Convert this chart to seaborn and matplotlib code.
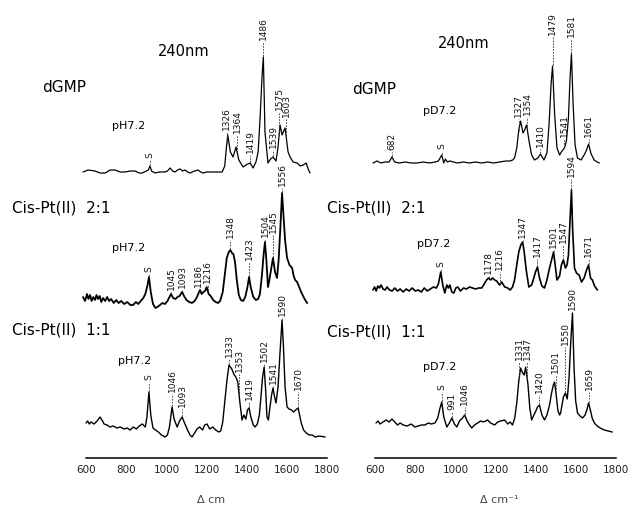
import numpy as np
import matplotlib
matplotlib.use("Agg")
import matplotlib.pyplot as plt
import seaborn as sns

# --- spectra: wavenumber (cm-1) and intensity above each trace baseline ---
# left column (H2O, pH 7.2)
dgmp_h_wn = [585, 610, 645, 670, 695, 720, 744, 770, 794, 820,
             844, 865, 879, 900, 910, 918, 926, 943, 965, 993,
             1005, 1018, 1030, 1043, 1055, 1068, 1080, 1093, 1105, 1117,
             1140, 1157, 1170, 1182, 1200, 1227, 1250, 1277, 1290, 1297,
             1305, 1318, 1331, 1346, 1360, 1381, 1395, 1416, 1431, 1445,
             1456, 1466, 1476, 1482, 1490, 1505, 1518, 1530, 1545, 1555,
             1565, 1575, 1590, 1605, 1615, 1630, 1650, 1665, 1680, 1695,
             1705, 1714]
dgmp_h_int = [0, 2, 1, -1, -1, 2, 2, 0, 0, 1,
              1, -1, -1, 1, 2, 6, 1, -1, 0, 0,
              1, 4, 1, 0, 2, 3, 1, 2, 0, -1,
              1, 2, 0, -1, 0, 0, 0, 0, 6, 22,
              37, 20, 15, 25, 12, 5, 7, 9, 4, 10,
              20, 55, 98, 115, 40, 9, 13, 15, 11, 25,
              47, 37, 44, 20, 15, 10, 9, 6, 7, 9,
              3, -1]

pt21_h_wn = [585, 595, 605, 612, 620, 628, 636, 645, 652, 660,
             668, 676, 685, 695, 705, 715, 725, 738, 750, 762,
             775, 790, 805, 820, 834, 848, 860, 872, 885, 895,
             905, 913, 922, 933, 945, 955, 968, 980, 993, 1005,
             1015, 1023, 1033, 1045, 1055, 1065, 1078, 1090, 1100, 1113,
             1127, 1140, 1152, 1160, 1167, 1175, 1184, 1192, 1200, 1210,
             1220, 1232, 1245, 1257, 1267, 1280, 1290, 1300, 1310, 1318,
             1326, 1333, 1341, 1350, 1360, 1370, 1381, 1392, 1402, 1411,
             1420, 1432, 1445, 1456, 1465, 1475, 1483, 1490, 1497, 1505,
             1512, 1520, 1530, 1540, 1550, 1558, 1566, 1575, 1582, 1590,
             1600, 1612, 1625, 1633, 1640, 1650, 1660, 1670, 1682, 1690,
             1700]
pt21_h_int = [3, -1, 6, 1, 5, -1, 3, 0, 5, 1,
              4, -2, 2, -1, 3, -1, 1, -3, 0, -3,
              -1, -4, -2, -5, -5, -2, -4, -1, 2, 6,
              14, 23, 8, -4, -8, -7, -5, -3, -4, -1,
              3, 6, 2, 1, 3, 4, 8, 3, 0, -2,
              -3, -1, 3, 7, 10, 6, 8, 9, 13, 6,
              4, 0, -2, -3, -1, 8, 25, 42, 48, 50,
              47, 46, 38, 20, 5, 0, -1, 3, 12, 23,
              12, 3, 0, 1, 6, 25, 45, 58, 40, 13,
              20, 30, 42, 28, 22, 40, 70, 107, 85, 60,
              42, 35, 32, 24, 20, 18, 13, 8, 3, 0,
              -3]

pt11_h_wn = [600, 608, 616, 625, 640, 655, 670, 682, 690, 704,
             720, 735, 754, 770, 790, 805, 819, 835, 850, 865,
             880, 895, 903, 913, 922, 933, 945, 960, 975, 993,
             1005, 1015, 1028, 1038, 1053, 1065, 1078, 1090, 1105, 1117,
             1127, 1140, 1152, 1165, 1180, 1190, 1202, 1215, 1230, 1245,
             1260, 1270, 1280, 1290, 1300, 1311, 1325, 1335, 1345, 1355,
             1365, 1376, 1385, 1395, 1403, 1411, 1420, 1432, 1441, 1452,
             1462, 1470, 1478, 1486, 1494, 1500, 1507, 1515, 1523, 1530,
             1538, 1545, 1555, 1565, 1575, 1582, 1590, 1600, 1610, 1622,
             1632, 1642, 1655, 1662, 1672, 1682, 1695, 1710, 1725, 1740,
             1760, 1789]
pt11_h_int = [4, 6, 3, 5, 3, 6, 10, 6, 3, 2,
              0, 1, -1, 0, -2, -1, -3, 0, -2, 1,
              3, 0, 10, 35, 12, -1, -3, -5, -8, -10,
              -8, 0, 20, 8, 0, 6, 10, 4, -3, -8,
              -10, -6, -2, 0, -3, 2, 3, -2, 0, -3,
              -5, -4, 5, 25, 45, 62, 58, 53, 50, 45,
              25, 7, 12, 8, 17, 19, 10, 2, 0, 3,
              12, 30, 50, 60, 35, 10, 7, 20, 32, 39,
              30, 24, 40, 75, 107, 80, 40, 20, 18, 17,
              15, 17, 19, 12, 3, -3, -6, -8, -8, -10,
              -9, -10]

# right column (D2O, pD 7.2)
dgmp_d_wn = [590, 610, 630, 650, 670, 684, 698, 720, 750, 780,
             810, 840, 870, 900, 915, 932, 942, 950, 960, 972,
             990, 1010, 1040, 1070, 1100, 1130, 1160, 1190, 1220, 1250,
             1270, 1285, 1294, 1305, 1315, 1324, 1336, 1344, 1354, 1366,
             1379, 1393, 1410, 1423, 1440, 1455, 1466, 1476, 1483, 1493,
             1505, 1518, 1530, 1542, 1552, 1562, 1570, 1577, 1585, 1595,
             1607, 1625, 1640, 1650, 1662, 1675, 1690, 1705, 1716]
dgmp_d_int = [0, 2, 0, 1, 1, 6, 1, 0, 1, 0,
              0, 1, 0, 1, 2, 8, 0, 4, 1, 2,
              1, 0, 1, 0, 1, 0, 1, 0, 1, 2,
              2, 3, 5, 15, 33, 42, 30, 33, 38, 22,
              8, 3, 5, 9, 3, 10, 40, 80, 97, 50,
              15, 8, 12, 15, 22, 45, 85, 109, 60, 18,
              5, 3, 8, 12, 19, 9, 3, 1, 0]

pt21_d_wn = [590, 598, 606, 614, 622, 630, 640, 650, 660, 672,
             685, 698, 712, 725, 740, 755, 770, 785, 800, 815,
             830, 845, 860, 875, 890, 905, 915, 927, 937, 947,
             957, 965, 972, 982, 992, 1002, 1012, 1025, 1040, 1055,
             1070, 1085, 1100, 1115, 1131, 1146, 1155, 1165, 1175, 1185,
             1195, 1205, 1212, 1220, 1230, 1245, 1260, 1272, 1284, 1294,
             1305, 1315, 1325, 1334, 1342, 1352, 1365, 1379, 1390, 1398,
             1408, 1418, 1430, 1443, 1455, 1468, 1478, 1488, 1496, 1505,
             1518, 1527, 1537, 1547, 1555, 1562, 1570, 1577, 1583, 1592,
             1602, 1615, 1627, 1640, 1652, 1662, 1672, 1681, 1692, 1706]
pt21_d_int = [0, 3, -1, 4, 2, 5, 1, 0, 3, 0,
              -1, 2, -1, 1, -2, 1, -1, 2, -1, 0,
              -2, 2, -1, 1, 3, 2, 6, 18, 5, -3,
              5, 2, 5, -2, -3, 2, 3, -1, 2, 1,
              3, 2, 1, 2, 2, 7, 10, 12, 10, 12,
              10, 9, 7, 5, 8, 3, 2, 0, 3, 10,
              25, 38, 45, 48, 38, 20, 3, 5, 12, 18,
              23, 12, 4, 2, 10, 22, 30, 38, 25, 10,
              14, 25, 30, 22, 25, 35, 70, 100, 60, 22,
              17, 15, 8, 12, 20, 25, 12, 10, 4, 0]

pt11_d_wn = [605, 615, 625, 640, 655, 670, 684, 698, 712, 725,
             740, 760, 780, 798, 815, 830, 848, 865, 880, 898,
             912, 922, 932, 942, 957, 970, 982, 995, 1007, 1020,
             1035, 1046, 1058, 1070, 1081, 1095, 1110, 1125, 1140, 1160,
             1175, 1195, 1210, 1225, 1245, 1260, 1272, 1284, 1295, 1305,
             1315, 1324, 1334, 1342, 1349, 1360, 1370, 1379, 1390, 1400,
             1408, 1418, 1430, 1443, 1455, 1468, 1478, 1487, 1493, 1500,
             1510, 1518, 1523, 1530, 1537, 1547, 1556, 1565, 1572, 1582,
             1590, 1598, 1607, 1620, 1632, 1645, 1655, 1662, 1670, 1680,
             1691, 1705, 1720, 1740, 1760, 1780]
pt11_d_int = [0, 2, -1, 1, 3, 1, 4, 1, -2, 0,
              -2, -3, -1, -4, -3, -2, -2, 0, -1, 0,
              5, 14, 21, 6, -4, 0, 5, -1, -4, 2,
              5, 8, 2, -2, -5, -2, 0, 2, 1, 3,
              0, -2, 1, 2, 3, -1, 1, -2, 5, 20,
              42, 55, 50, 48, 56, 40, 15, 3, 8, 12,
              16, 18, 8, 3, 8, 18, 30, 38, 41, 30,
              12, 8, 10, 18, 26, 30, 24, 45, 75, 110,
              55, 22, 10, 7, 5, 8, 14, 20, 14, 5,
              0, -3, -5, -7, -8, -9]

# --- peak labels ---
dgmp_h_labels = ["S", "1326", "1364", "1419", "1486", "1539", "1575", "1603"]
dgmp_h_label_wn = [918, 1300, 1352, 1416, 1482, 1530, 1560, 1597]
pt21_h_labels = ["S", "1045", "1093", "1186", "1216", "1348", "1423", "1504", "1545", "1556"]
pt21_h_label_wn = [913, 1023, 1078, 1160, 1205, 1318, 1411, 1490, 1532, 1575]
pt11_h_labels = ["S", "1046", "1093", "1333", "1353", "1419", "1502", "1541", "1590", "1670"]
pt11_h_label_wn = [913, 1028, 1078, 1311, 1361, 1411, 1486, 1530, 1575, 1655]

dgmp_d_labels = ["682", "S", "1327", "1354", "1410", "1479", "1541", "1581", "1661"]
dgmp_d_label_wn = [684, 932, 1314, 1358, 1423, 1483, 1542, 1577, 1662]
pt21_d_labels = ["S", "1178", "1216", "1347", "1417", "1501", "1547", "1594", "1671"]
pt21_d_label_wn = [927, 1165, 1220, 1334, 1408, 1488, 1537, 1577, 1662]
pt11_d_labels = ["S", "991", "1046", "1331", "1347", "1420", "1501", "1550", "1590", "1659"]
pt11_d_label_wn = [932, 982, 1046, 1316, 1358, 1418, 1498, 1547, 1582, 1666]

# layout: vertical offsets of traces and label heights (axes units ~ pixels)
left_offsets = [286, 158, 31]
right_offsets = [295, 168, 35]
dgmp_h_label_y = [300, 328, 325, 305, 418, 310, 348, 341]
pt21_h_label_y = [186, 168, 170, 171, 175, 220, 198, 221, 225, 272]
pt11_h_label_y = [78, 66, 51, 101, 86, 58, 96, 74, 142, 68]
dgmp_d_label_y = [308, 309, 341, 343, 311, 423, 321, 421, 321]
pt21_d_label_y = [191, 184, 188, 220, 201, 210, 215, 281, 201]
pt11_d_label_y = [68, 48, 53, 98, 98, 65, 85, 113, 148, 68]

W, H = 635, 507


def draw_panel(ax, traces):
    for wn, inten, off, lw, labels, lab_wn, lab_y in traces:
        y = np.asarray(inten, float) + off
        sns.lineplot(x=wn, y=y, ax=ax, color="black", lw=lw,
                     estimator=None, sort=False)
        for text, xw, ly in zip(labels, lab_wn, lab_y):
            top = np.interp(xw, wn, y)
            ax.text(xw, ly, text, rotation=90, ha="center", va="bottom",
                    fontsize=6.5, color="#111111")
            if ly - 2 > top + 1:
                ax.plot([xw, xw], [top + 1, ly - 1.5], color="#333333",
                        lw=0.6, ls=(0, (2, 1.5)))
    ax.set_xlim(580, 1810)
    ax.set_ylim(0, 458)
    for s in ["left", "right", "top"]:
        ax.spines[s].set_visible(False)
    ax.spines["bottom"].set_bounds(600, 1800)
    ax.spines["bottom"].set_linewidth(1.1)
    ax.spines["bottom"].set_color("black")
    ax.set_yticks([])
    ax.set_xticks(np.arange(600, 1801, 200))
    ax.tick_params(axis="x", direction="in", length=6, width=1.1,
                   labelsize=7.5, pad=5, color="black", labelcolor="#222222")
    ax.set_xlabel("")
    ax.set_ylabel("")
    ax.patch.set_alpha(0)


def ftext(fig, x, y, s, size, **kw):
    kw.setdefault("color", "black")
    fig.text(x / W, 1 - y / H, s, fontsize=size, va="center", ha="left", **kw)


def main():
    sns.set_theme(style="white")
    plt.rcParams["font.family"] = ["DejaVu Sans"]
    plt.rcParams["text.color"] = "black"
    fig = plt.figure(figsize=(6.35, 5.07), dpi=100)
    fig.patch.set_facecolor("white")

    # px/wavenumber ~0.201, 600 cm-1 at x=86 (left) and x=375 (right)
    axl = fig.add_axes([82 / W, 49 / H, 247.3 / W, 458 / H])
    axr = fig.add_axes([371 / W, 49 / H, 247.3 / W, 458 / H])

    draw_panel(axl, [
        (dgmp_h_wn, dgmp_h_int, left_offsets[0], 0.9, dgmp_h_labels, dgmp_h_label_wn, dgmp_h_label_y),
        (pt21_h_wn, pt21_h_int, left_offsets[1], 1.3, pt21_h_labels, pt21_h_label_wn, pt21_h_label_y),
        (pt11_h_wn, pt11_h_int, left_offsets[2], 1.0, pt11_h_labels, pt11_h_label_wn, pt11_h_label_y),
    ])
    draw_panel(axr, [
        (dgmp_d_wn, dgmp_d_int, right_offsets[0], 0.9, dgmp_d_labels, dgmp_d_label_wn, dgmp_d_label_y),
        (pt21_d_wn, pt21_d_int, right_offsets[1], 1.2, pt21_d_labels, pt21_d_label_wn, pt21_d_label_y),
        (pt11_d_wn, pt11_d_int, right_offsets[2], 1.0, pt11_d_labels, pt11_d_label_wn, pt11_d_label_y),
    ])

    # headings and sample names
    ftext(fig, 158, 52, "240nm", 10.5)
    ftext(fig, 438, 43, "240nm", 10.5)
    ftext(fig, 42, 88, "dGMP", 11)
    ftext(fig, 352, 89, "dGMP", 11)
    ftext(fig, 112, 126, "pH7.2", 8)
    ftext(fig, 423, 111, "pD7.2", 8)
    ftext(fig, 12, 208, "Cis-Pt(II)  2:1", 11)
    ftext(fig, 327, 208, "Cis-Pt(II)  2:1", 11)
    ftext(fig, 112, 248, "pH7.2", 8)
    ftext(fig, 417, 244, "pD7.2", 8)
    ftext(fig, 12, 330, "Cis-Pt(II)  1:1", 11)
    ftext(fig, 327, 332, "Cis-Pt(II)  1:1", 11)
    ftext(fig, 118, 361, "pH7.2", 8)
    ftext(fig, 423, 367, "pD7.2", 8)
    ftext(fig, 197, 500, "Δ cm", 8, color="#444444")
    ftext(fig, 480, 500, "Δ cm⁻¹", 8, color="#444444")

    fig.savefig("out.png", dpi=100, facecolor="white")


if __name__ == "__main__":
    main()
